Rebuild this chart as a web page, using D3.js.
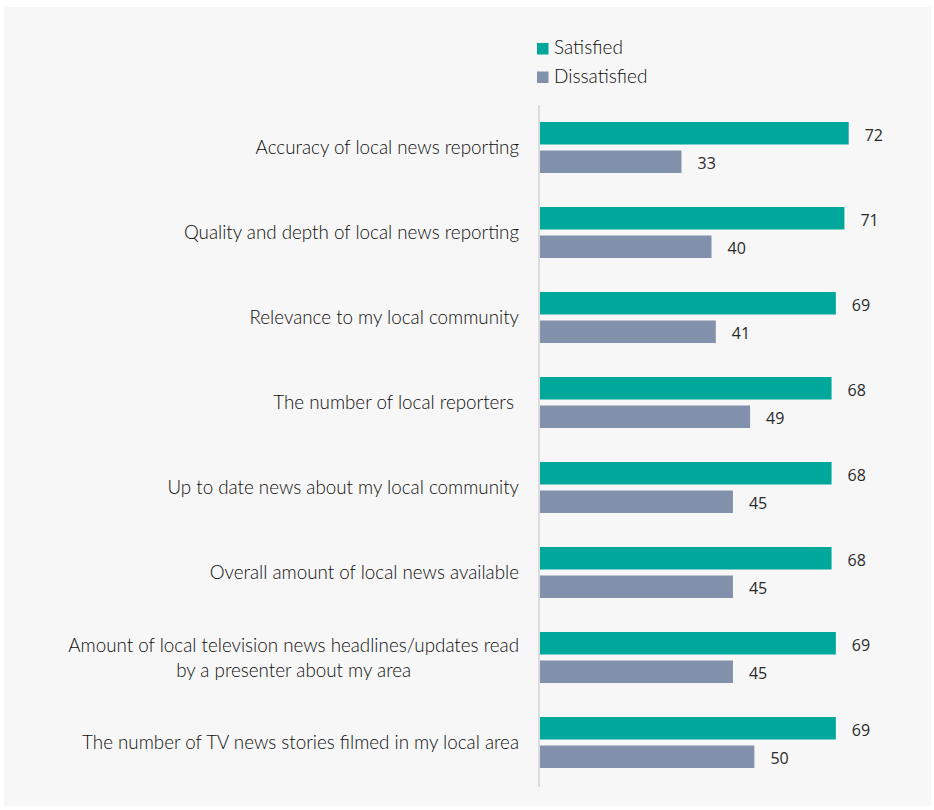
<!DOCTYPE html>
<html>
<head>
<meta charset="utf-8">
<script src="https://cdn.jsdelivr.net/npm/d3@7"></script>
<style>
  html, body { margin: 0; padding: 0; background: #ffffff; }
  svg { display: block; }
  .cat { font-family: Lato, "Noto Sans", sans-serif; font-weight: 300; font-size: 18.8px; fill: #0d0d0d; white-space: pre; }
  .val { font-family: "Open Sans", "Noto Sans", sans-serif; font-weight: 400; font-size: 16px; fill: #2a2a2a; }
  .leg { font-family: Lato, "Noto Sans", sans-serif; font-weight: 300; font-size: 19px; fill: #0d0d0d; }
</style>
</head>
<body>
<svg id="chart" width="934" height="810"></svg>
<script>
// Categories (a "\n" splits a label over two lines)
const categories = [
  "Accuracy of local news reporting",
  "Quality and depth of local news reporting",
  "Relevance to my local community",
  "The number of local reporters ",
  "Up to date news about my local community",
  "Overall amount of local news available",
  "Amount of local television news headlines/updates read\nby a presenter about my area",
  "The number of TV news stories filmed in my local area"
];
const seriesNames = ["Satisfied", "Dissatisfied"];
const satisfied    = [72, 71, 69, 68, 68, 68, 69, 69];
const dissatisfied = [33, 40, 41, 49, 45, 45, 45, 50];
const seriesColors = ["#00a89c", "#8291ab"];

const svg = d3.select("#chart");

// panel background
svg.append("rect")
  .attr("x", 4).attr("y", 7)
  .attr("width", 927).attr("height", 799)
  .attr("fill", "#f7f7f7");

const rows = categories.map((c, i) => ({
  cat: c,
  values: [satisfied[i], dissatisfied[i]]
}));

const y0 = d3.scaleBand().domain(categories).range([110, 790]).padding(0);
const y1 = d3.scaleBand().domain(seriesNames).range([12, 63]).paddingInner(0.2105);
const x = d3.scaleLinear().domain([0, 80]).range([540, 883]);
const color = d3.scaleOrdinal().domain(seriesNames).range(seriesColors);

// axis baseline
svg.append("line")
  .attr("x1", x(0) - 1).attr("x2", x(0) - 1)
  .attr("y1", 105).attr("y2", 787)
  .attr("stroke", "#dcdcdc").attr("stroke-width", 2);

const groups = svg.selectAll("g.row").data(rows).join("g")
  .attr("class", "row")
  .attr("transform", d => `translate(0,${y0(d.cat)})`);

groups.selectAll("rect").data(d => d.values.map((v, k) => ({ s: seriesNames[k], v })))
  .join("rect")
  .attr("x", x(0))
  .attr("y", d => y1(d.s))
  .attr("width", d => x(d.v) - x(0))
  .attr("height", y1.bandwidth())
  .attr("fill", d => color(d.s));

groups.selectAll("text.val").data(d => d.values.map((v, k) => ({ s: seriesNames[k], v })))
  .join("text")
  .attr("class", "val")
  .attr("x", d => x(d.v) + 16)
  .attr("y", d => y1(d.s) + y1.bandwidth() / 2 + 3)
  .attr("dominant-baseline", "middle")
  .text(d => d.v);

// category labels, right aligned; multi-line labels are centred as a block
groups.each(function (d) {
  const g = d3.select(this);
  const lines = d.cat.split("\n");
  const mid = (y1("Satisfied") + y1("Dissatisfied") + y1.bandwidth()) / 2 + 2;
  const lh = 25;
  const rightX = 519;
  if (lines.length === 1) {
    g.append("text").attr("class", "cat")
      .attr("x", rightX).attr("y", mid)
      .attr("text-anchor", "end")
      .attr("dominant-baseline", "middle")
      .text(lines[0]);
  } else {
    const t = g.append("text").attr("class", "cat")
      .attr("text-anchor", "middle")
      .attr("dominant-baseline", "middle");
    const spans = lines.map((ln, j) => t.append("tspan")
      .attr("y", mid + (j - (lines.length - 1) / 2) * lh)
      .text(ln));
    const w = d3.max(spans, s => s.node().getComputedTextLength());
    spans.forEach(s => s.attr("x", rightX - w / 2));
  }
});

// legend
const legend = svg.append("g").selectAll("g").data(seriesNames).join("g")
  .attr("transform", (d, i) => `translate(537,${43 + i * 28.5})`);
legend.append("rect").attr("width", 11.5).attr("height", 11.5).attr("fill", d => color(d));
legend.append("text").attr("class", "leg")
  .attr("x", 17).attr("y", 6.5)
  .attr("dominant-baseline", "middle")
  .text(d => d);
</script>
</body>
</html>
